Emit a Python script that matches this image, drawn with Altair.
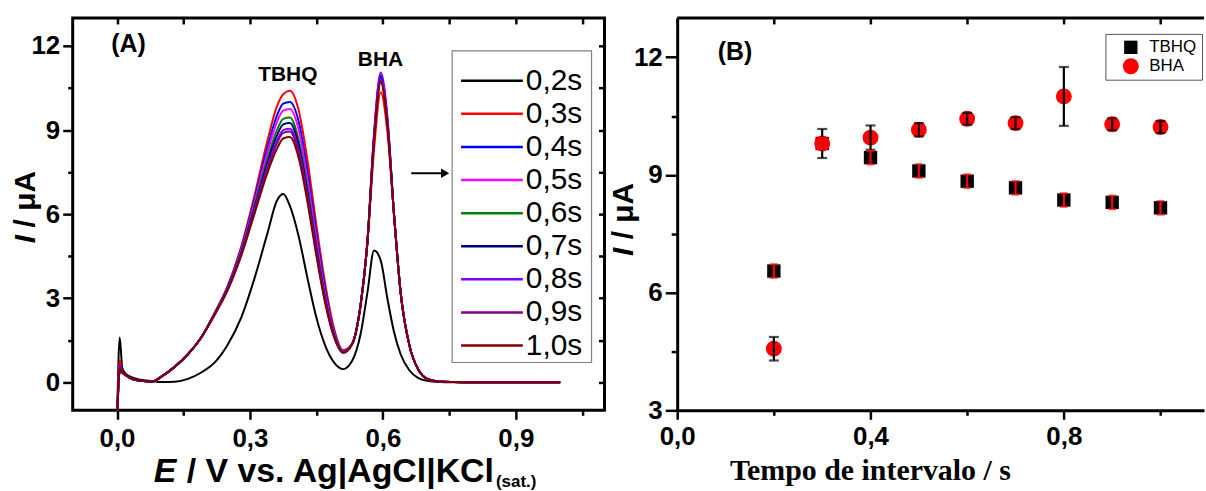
import altair as alt
import pandas as pd

FONT = "Liberation Sans"
SERIF = "Liberation Serif"

# ---------------- Panel A : voltammograms ----------------
E = [0.0, 0.006, 0.012, 0.02, 0.03, 0.05, 0.08, 0.1, 0.13, 0.16, 0.19, 0.22, 0.25, 0.28,
     0.31, 0.34, 0.36, 0.375, 0.39, 0.41, 0.43, 0.45, 0.47, 0.49, 0.51, 0.53, 0.55, 0.565,
     0.58, 0.595, 0.61, 0.625, 0.64, 0.66, 0.68, 0.70, 0.72, 0.76, 0.8, 0.9, 1.0]

labels = ["0,2s", "0,3s", "0,4s", "0,5s", "0,6s", "0,7s", "0,8s", "0,9s", "1,0s"]
colors = ["#000000", "#ff0000", "#0000ff", "#ff00ff", "#008000", "#000080", "#8000ff", "#800080", "#800000"]

I_02 = [-1.5, 1.6, 0.5, 0.3, 0.2, 0.1, 0.04, 0.01, 0.02, 0.12, 0.35, 0.7, 1.35, 2.3,
        3.7, 5.35, 6.45, 6.72, 6.3, 5.2, 3.7, 2.3, 1.3, 0.7, 0.47, 0.75, 1.75, 3.2,
        4.7, 4.35, 3.0, 1.8, 1.0, 0.42, 0.15, 0.05, 0.02, 0.0, 0.0, 0.0, 0.0]
I_03 = [-1.5, 0.8, 0.35, 0.25, 0.15, 0.06, 0.03, 0.2, 0.55, 1.0, 1.6, 2.47, 3.45, 4.83,
        6.65, 8.66, 9.81, 10.28, 10.4, 9.7, 7.9, 5.6, 3.5, 1.9, 1.15, 1.35, 2.8, 5.0,
        8.3, 10.35, 8.95, 6.0, 3.2, 1.3, 0.45, 0.12, 0.04, 0.01, 0.0, 0.0, 0.0]
I_04 = [-1.5, 0.6, 0.35, 0.25, 0.15, 0.06, 0.03, 0.2, 0.55, 1.0, 1.6, 2.45, 3.42, 4.76,
        6.51, 8.41, 9.48, 9.94, 10.0, 9.3, 7.5, 5.3, 3.3, 1.8, 1.12, 1.35, 2.8, 5.0,
        8.8, 10.95, 9.4, 6.0, 3.2, 1.3, 0.45, 0.12, 0.04, 0.01, 0.0, 0.0, 0.0]
I_05 = [-1.5, 0.5, 0.35, 0.25, 0.15, 0.06, 0.03, 0.2, 0.55, 1.0, 1.6, 2.44, 3.39, 4.71,
        6.41, 8.23, 9.25, 9.69, 9.75, 9.0, 7.2, 5.1, 3.15, 1.75, 1.11, 1.35, 2.8, 5.0,
        8.7, 10.85, 9.3, 6.0, 3.2, 1.3, 0.45, 0.12, 0.04, 0.01, 0.0, 0.0, 0.0]
I_06 = [-1.5, 0.45, 0.35, 0.25, 0.15, 0.06, 0.03, 0.2, 0.55, 1.0, 1.6, 2.43, 3.37, 4.64,
        6.29, 8.01, 8.96, 9.4, 9.45, 8.64, 6.91, 4.86, 3.02, 1.7, 1.09, 1.35, 2.8, 5.0,
        8.7, 10.8, 9.3, 6.0, 3.2, 1.3, 0.45, 0.12, 0.04, 0.01, 0.0, 0.0, 0.0]
I_07 = [-1.5, 0.4, 0.35, 0.25, 0.15, 0.06, 0.03, 0.2, 0.55, 1.0, 1.6, 2.42, 3.35, 4.6,
        6.21, 7.86, 8.77, 9.2, 9.25, 8.46, 6.76, 4.76, 2.96, 1.67, 1.08, 1.35, 2.8, 5.0,
        8.75, 10.9, 9.35, 6.0, 3.2, 1.3, 0.45, 0.12, 0.04, 0.01, 0.0, 0.0, 0.0]
I_08 = [-1.5, 0.55, 0.35, 0.25, 0.15, 0.06, 0.03, 0.2, 0.55, 1.0, 1.6, 2.41, 3.33, 4.56,
        6.12, 7.72, 8.58, 9.0, 9.05, 8.27, 6.62, 4.65, 2.9, 1.64, 1.07, 1.35, 2.8, 5.0,
        8.9, 11.05, 9.5, 6.0, 3.2, 1.3, 0.45, 0.12, 0.04, 0.01, 0.0, 0.0, 0.0]
I_09 = [-1.5, 0.35, 0.35, 0.25, 0.15, 0.06, 0.03, 0.2, 0.55, 1.0, 1.6, 2.41, 3.32, 4.54,
        6.08, 7.65, 8.49, 8.9, 8.95, 8.18, 6.55, 4.6, 2.86, 1.63, 1.06, 1.35, 2.8, 5.0,
        8.65, 10.75, 9.25, 6.0, 3.2, 1.3, 0.45, 0.12, 0.04, 0.01, 0.0, 0.0, 0.0]
I_10 = [-1.5, 0.5, 0.35, 0.25, 0.15, 0.06, 0.03, 0.2, 0.55, 1.0, 1.6, 2.4, 3.3, 4.5,
        6.0, 7.5, 8.3, 8.7, 8.75, 8.0, 6.4, 4.5, 2.8, 1.6, 1.05, 1.35, 2.8, 5.0,
        8.6, 10.7, 9.2, 6.0, 3.2, 1.3, 0.45, 0.12, 0.04, 0.01, 0.0, 0.0, 0.0]

curves = [I_02, I_03, I_04, I_05, I_06, I_07, I_08, I_09, I_10]

# ---------------- Panel B : peak currents ----------------
t_int = [0.2, 0.3, 0.4, 0.5, 0.6, 0.7, 0.8, 0.9, 1.0]
tbhq = [6.55, 9.80, 9.44, 9.10, 8.84, 8.67, 8.36, 8.30, 8.16]
tbhq_err = [0.17, 0.15, 0.17, 0.17, 0.17, 0.17, 0.17, 0.17, 0.17]
bha = [4.57, 9.80, 9.95, 10.15, 10.43, 10.32, 11.00, 10.29, 10.22]
bha_err = [0.30, 0.37, 0.31, 0.17, 0.15, 0.15, 0.75, 0.15, 0.15]
series_b = ["TBHQ", "BHA"]

# ---------------- build tables ----------------
rows = []
for lab, vals in zip(labels, curves):
    for e, v in zip(E, vals):
        rows.append({"E": e, "I": v, "t": lab})
dfA = pd.DataFrame(rows)
dfLeg = pd.DataFrame({"t": labels})
one = pd.DataFrame({"k": [0]})

dfT = pd.DataFrame({"x": t_int, "v": tbhq, "err": tbhq_err, "s": "TBHQ"})
dfH = pd.DataFrame({"x": t_int, "v": bha, "err": bha_err, "s": "BHA"})
dfB = pd.concat([dfT, dfH], ignore_index=True)


def cond(test, a, b):
    return {"condition": {"test": test, "value": a}, "value": b}


def txt(text, x, y, size, weight="bold", style="normal", align="center", font=FONT,
        angle=0, baseline="alphabetic"):
    return alt.Chart(pd.DataFrame({"txt": [text]})).mark_text(
        align=align, baseline=baseline, font=font, fontSize=size, angle=angle,
        fontWeight=weight, fontStyle=style, color="black"
    ).encode(x=alt.value(x), y=alt.value(y), text="txt:N")


WA, HA = 534, 394
WB, HB = 529, 394

axis_base = dict(grid=False, tickColor="black", tickWidth=2.5,
                 labelFont=FONT, labelFontWeight="bold", labelFontSize=26,
                 labelColor="black", labelFlush=False, labelOverlap=False, title=None)

# ----- Panel A -----
xA_scale = alt.Scale(domain=[-0.1, 1.1], nice=False, zero=False)
yA_scale = alt.Scale(domain=[-1, 13], nice=False, zero=False)
xA_vals = [0.0, 0.15, 0.3, 0.45, 0.6, 0.75, 0.9, 1.05]
yA_vals = [0.0, 1.5, 3.0, 4.5, 6.0, 7.5, 9.0, 10.5, 12.0]
xA_major = "abs(round(datum.value*100)) % 30 == 0"
yA_major = "abs(round(datum.value*10)) % 30 == 0"

axXA = alt.Axis(values=xA_vals, orient="bottom", domain=False,
                labelExpr=f"{xA_major} ? replace(format(datum.value, '.1f'), '.', ',') : ''",
                tickSize=cond(xA_major, 9, 5), labelPadding=6, **axis_base)
axYA = alt.Axis(values=yA_vals, orient="left", domain=False,
                labelExpr=f"{yA_major} ? format(datum.value, 'd') : ''",
                tickSize=cond(yA_major, 10, 5), labelPadding=3, **axis_base)

cscale = alt.Scale(domain=labels, range=colors)

lines = alt.Chart(dfA).mark_line(strokeWidth=2, clip=True, interpolate="monotone").encode(
    x=alt.X("E:Q", scale=xA_scale, axis=axXA),
    y=alt.Y("I:Q", scale=yA_scale, axis=axYA),
    color=alt.Color("t:N", scale=cscale, legend=None),
)

mirrorA = alt.Chart(dfA.head(1)).mark_point(opacity=0).encode(
    x=alt.X("E:Q", scale=xA_scale,
            axis=alt.Axis(orient="top", values=xA_vals, labels=False, domain=False, grid=False,
                          tickColor="black", tickWidth=2.5, tickSize=6, offset=-6, title=None)),
    y=alt.Y("I:Q", scale=yA_scale,
            axis=alt.Axis(orient="right", values=yA_vals, labels=False, domain=False, grid=False,
                          tickColor="black", tickWidth=2.5, tickSize=6, offset=-6, title=None)),
)

leg_y = alt.Y("t:N", scale=alt.Scale(type="point", domain=labels, range=[63, 329], padding=0), axis=None)
leg_box = alt.Chart(one).mark_rect(fill="white", stroke="#808080", strokeWidth=1.2).encode(
    x=alt.value(381), x2=alt.value(521), y=alt.value(33), y2=alt.value(346))
leg_rule = alt.Chart(dfLeg).mark_rule(strokeWidth=2.5).encode(
    x=alt.value(390), x2=alt.value(452), y=leg_y,
    color=alt.Color("t:N", scale=cscale, legend=None))
leg_text = alt.Chart(dfLeg).mark_text(align="left", baseline="middle", font=FONT, fontSize=30,
                                      color="black").encode(
    x=alt.value(455), y=leg_y, text="t:N")

arrow_line = alt.Chart(one).mark_rule(strokeWidth=2, color="black").encode(
    x=alt.value(340), x2=alt.value(372), y=alt.value(156))
arrow_head = alt.Chart(one).mark_point(shape="triangle-right", filled=True, size=90,
                                       color="black", opacity=1).encode(
    x=alt.value(374), y=alt.value(156))

panelA = alt.layer(
    lines, mirrorA, leg_box, leg_rule, leg_text, arrow_line, arrow_head,
    txt("(A)", 56, 34, 25),
    txt("TBHQ", 216, 63, 21),
    txt("BHA", 309, 48, 21),
    txt("E", 104, 466, 34, style="italic", align="right"),
    txt("/ V vs. Ag|AgCl|KCl", 423, 466, 34, align="right"),
    txt("(sat.)", 425, 471, 17, align="left"),
    txt("I", -47, 222, 30, style="italic", angle=270, baseline="middle"),
    txt("/ μA", -47, 182, 30, angle=270, baseline="middle"),
).resolve_scale(y="independent").resolve_axis(x="independent", y="independent").properties(
    width=WA, height=HA)

# ----- Panel B -----
xB_scale = alt.Scale(domain=[0, 1.09], nice=False, zero=False)
yB_scale = alt.Scale(domain=[3, 13], nice=False, zero=False)
xB_vals = [0.0, 0.2, 0.4, 0.6, 0.8, 1.0]
yB_vals = [3.0, 4.5, 6.0, 7.5, 9.0, 10.5, 12.0]
xB_major = "abs(round(datum.value*10)) % 4 == 0"
yB_major = "abs(round(datum.value*10)) % 30 == 0"

axXB = alt.Axis(values=xB_vals, orient="bottom",
                labelExpr=f"{xB_major} ? replace(format(datum.value, '.1f'), '.', ',') : ''",
                tickSize=cond(xB_major, 9, 5), labelPadding=4,
                domain=True, domainColor="black", domainWidth=3, **axis_base)
axYB = alt.Axis(values=yB_vals, orient="left",
                labelExpr=f"{yB_major} ? format(datum.value, 'd') : ''",
                tickSize=cond(yB_major, 12, 6), labelPadding=3,
                domain=True, domainColor="black", domainWidth=3, **axis_base)

legB = alt.Legend(title=None, orient="none", legendX=430, legendY=16, fillColor="white",
                  strokeColor="#555555", padding=5, labelFont=FONT, labelFontSize=17,
                  labelColor="black", symbolStrokeWidth=0, rowPadding=1, symbolOpacity=1,
                  symbolOffset=12, labelOffset=10)

points = alt.Chart(dfB).mark_point(filled=True, opacity=1, strokeWidth=0).encode(
    x=alt.X("x:Q", scale=xB_scale, axis=axXB),
    y=alt.Y("v:Q", scale=yB_scale, axis=axYB),
    color=alt.Color("s:N", scale=alt.Scale(domain=series_b, range=["black", "red"]), legend=legB),
    shape=alt.Shape("s:N", scale=alt.Scale(domain=series_b, range=["square", "circle"]), legend=legB),
    size=alt.Size("s:N", scale=alt.Scale(domain=series_b, range=[180, 256]), legend=legB),
)


def errbars(df, color, cap):
    base = alt.Chart(df).transform_calculate(lo="datum.v - datum.err", hi="datum.v + datum.err")
    xe = alt.X("x:Q", scale=xB_scale, axis=None)
    rule = base.mark_rule(color=color, strokeWidth=2.2).encode(
        x=xe, y=alt.Y("lo:Q", scale=yB_scale), y2="hi:Q")
    lo = base.mark_tick(color=color, orient="horizontal", size=cap, thickness=2.2).encode(
        x=xe, y=alt.Y("lo:Q", scale=yB_scale))
    hi = base.mark_tick(color=color, orient="horizontal", size=cap, thickness=2.2).encode(
        x=xe, y=alt.Y("hi:Q", scale=yB_scale))
    return [rule, lo, hi]


mirrorB = alt.Chart(dfB.head(1)).mark_point(opacity=0).encode(
    x=alt.X("x:Q", scale=xB_scale,
            axis=alt.Axis(orient="top", values=xB_vals, labels=False, domain=False, grid=False,
                          tickColor="black", tickWidth=2.5, tickSize=6, offset=-6, title=None)),
)
top_line = alt.Chart(one).mark_rule(strokeWidth=3, color="black").encode(
    x=alt.value(0), x2=alt.value(WB), y=alt.value(0))

panelB = alt.layer(
    points, *errbars(dfH, "black", 10), *errbars(dfT, "red", 8), mirrorB, top_line,
    txt("(B)", 58, 42, 25),
    txt("Tempo de intervalo / s", 194, 464, 30, font=SERIF),
    txt("I", -53, 235, 30, style="italic", angle=270, baseline="middle"),
    txt("/ μA", -53, 194, 30, angle=270, baseline="middle"),
).resolve_axis(x="independent").properties(
    width=WB, height=HB, view=alt.ViewBackground(stroke=None))

chart = alt.hconcat(panelA, panelB, spacing=2).properties(
    padding={"left": 9, "top": 14, "right": 0, "bottom": 0},
    background="white",
).resolve_scale(color="independent", shape="independent", size="independent"
).resolve_legend(color="independent", shape="independent", size="independent"
).configure_view(stroke="black", strokeWidth=3)

chart.save("out.html", embed_options={"renderer": "svg", "actions": False})
